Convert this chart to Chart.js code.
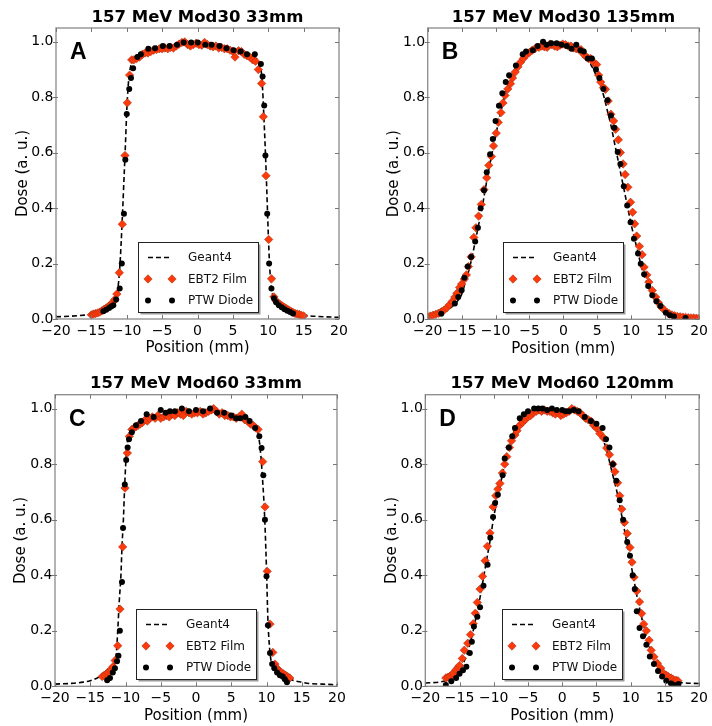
<!DOCTYPE html>
<html>
<head>
<meta charset="utf-8">
<script src="https://cdn.jsdelivr.net/npm/chart.js@4.4.1/dist/chart.umd.min.js"></script>
<style>
html, body { margin: 0; padding: 0; background: #fff; }
#wrap { position: relative; width: 712px; height: 726px; overflow: hidden; }
.panel { position: absolute; width: 356px; height: 363px; }
</style>
</head>
<body>
<div id="wrap">
  <div class="panel" style="left:0;top:0"><canvas id="cA" width="356" height="363"></canvas></div>
  <div class="panel" style="left:356px;top:0"><canvas id="cB" width="356" height="363"></canvas></div>
  <div class="panel" style="left:0;top:363px"><canvas id="cC" width="356" height="363"></canvas></div>
  <div class="panel" style="left:356px;top:363px"><canvas id="cD" width="356" height="363"></canvas></div>
</div>
<script>
// axis ticks and labels
const xTicks = [-20, -15, -10, -5, 0, 5, 10, 15, 20];
const yTicks = [0, 0.2, 0.4, 0.6, 0.8, 1.0];
const titles = ['157 MeV Mod30 33mm', '157 MeV Mod30 135mm', '157 MeV Mod60 33mm', '157 MeV Mod60 120mm'];
const letters = ['A', 'B', 'C', 'D'];
const seriesNames = ['Geant4', 'EBT2 Film', 'PTW Diode'];

// panel A : Mod30 33mm
const geantA = [[-20,.008],[-18,.01],[-16,.014],[-15,.017],[-14,.022],[-13,.03],[-12.5,.037],[-12,.046],[-11.6,.062],[-11.3,.1],[-11.0,.18],[-10.8,.27],[-10.6,.38],[-10.4,.5],[-10.2,.62],[-10.0,.75],[-9.8,.84],[-9.6,.89],[-9.3,.925],[-9.0,.94],[-8,.952],[-7,.962],[-6,.97],[-5,.976],[-4,.981],[-3,.986],[-2,.99],[-1,.992],[0,.992],[1,.991],[2,.989],[3,.985],[4,.98],[5,.974],[6,.967],[7,.958],[8,.945],[8.5,.935],[8.8,.92],[9.0,.895],[9.2,.83],[9.4,.72],[9.6,.6],[9.8,.46],[10.0,.31],[10.2,.19],[10.4,.12],[10.7,.08],[11.0,.062],[11.5,.05],[12,.04],[13,.028],[14,.02],[15,.014],[16,.011],[18,.008],[20,.006]];
const filmA = [[-15.0,.015],[-14.7,.018],[-14.4,.02],[-14.1,.022],[-13.8,.025],[-13.5,.03],[-13.2,.035],[-12.9,.04],[-12.6,.045],[-12.3,.05],[-12.0,.06],[-11.7,.07],[-11.4,.09],[-11.05,.167],[-10.63,.342],[-10.25,.59],[-9.92,.78],[-9.6,.88],[-9.3,.935],[-9.0,.935],[-8.6,.94],[-8.2,.945],[-7.8,.955],[-7.4,.96],[-7.0,.96],[-6.6,.965],[-6.2,.97],[-5.8,.972],[-5.4,.975],[-5.0,.975],[-4.6,.978],[-4.2,.975],[-3.8,.98],[-3.4,.978],[-3.0,.985],[-2.6,.992],[-2.2,.998],[-1.8,1.0],[-1.4,.99],[-1.0,.985],[-0.6,.99],[-0.2,.995],[0.2,.99],[0.6,.988],[1.0,.998],[1.4,.99],[1.8,.985],[2.2,.982],[2.6,.985],[3.0,.978],[3.4,.98],[3.8,.975],[4.2,.975],[4.6,.97],[5.0,.965],[5.3,.945],[5.8,.968],[6.2,.965],[6.6,.955],[7.0,.95],[7.4,.945],[7.8,.935],[8.2,.93],[8.6,.9],[9.06,.85],[9.3,.73],[9.68,.517],[10.06,.287],[10.46,.145],[10.8,.08],[11.1,.065],[11.4,.058],[11.7,.052],[12.0,.047],[12.3,.042],[12.6,.037],[12.9,.033],[13.2,.028],[13.5,.024],[13.8,.02],[14.1,.018],[14.4,.016],[14.7,.013],[15.0,.011]];
const diodeA = [[-13.3,.028],[-12.9,.033],[-12.5,.04],[-12.2,.045],[-11.9,.05],[-11.5,.07],[-11.0,.11],[-10.7,.2],[-10.4,.38],[-10.2,.575],[-10.0,.74],[-9.65,.83],[-9.4,.87],[-9.1,.905],[-8.5,.945],[-8.0,.955],[-6.95,.975],[-6.0,.977],[-4.9,.985],[-3.95,.985],[-2.9,.99],[-1.95,.998],[-0.9,.998],[0.04,.998],[1.1,.99],[2.0,.99],[3.1,.985],[4.1,.977],[5.1,.97],[6.1,.965],[7.0,.955],[8.1,.955],[8.96,.92],[9.2,.875],[9.43,.77],[9.6,.59],[9.85,.38],[10.12,.2],[10.45,.11],[10.8,.075],[11.1,.06],[11.5,.05],[11.9,.042],[12.3,.035],[12.7,.03],[13.1,.025],[13.5,.02]];

// panel B : Mod30 135mm
const geantB = [[-20,.01],[-19,.015],[-18,.022],[-17,.035],[-16,.055],[-15,.09],[-14.5,.13],[-14,.17],[-13.5,.22],[-13,.28],[-12.5,.34],[-12,.4],[-11.5,.47],[-11,.54],[-10.5,.6],[-10,.66],[-9.5,.72],[-9,.77],[-8.5,.82],[-8,.855],[-7,.91],[-6,.945],[-5,.97],[-4,.985],[-3,.995],[-2,.995],[-1,.99],[0,.985],[1,.98],[2,.97],[3,.95],[4,.92],[5,.87],[5.5,.84],[6,.8],[6.5,.75],[7,.7],[7.5,.64],[8,.58],[8.5,.52],[9,.46],[9.5,.4],[10,.34],[10.5,.29],[11,.24],[11.5,.19],[12,.15],[12.5,.12],[13,.09],[14,.055],[15,.032],[16,.02],[17,.012],[18,.008],[20,.004]];
const filmB = [[-20.0,.010],[-19.6,.012],[-19.2,.015],[-18.8,.018],[-18.4,.022],[-18.0,.027],[-17.6,.033],[-17.2,.041],[-16.8,.052],[-16.4,.064],[-16.0,.080],[-15.7,.094],[-15.3,.115],[-15.0,.127],[-14.6,.145],[-14.3,.160],[-14.0,.190],[-13.6,.225],[-13.2,.295],[-12.9,.330],[-12.5,.372],[-12.1,.414],[-11.7,.467],[-11.3,.510],[-11.0,.555],[-10.6,.587],[-10.3,.625],[-9.9,.671],[-9.6,.710],[-9.2,.745],[-8.9,.780],[-8.6,.807],[-8.2,.830],[-7.8,.849],[-7.5,.870],[-7.1,.891],[-6.7,.910],[-6.3,.927],[-5.9,.940],[-5.4,.954],[-5.0,.962],[-4.6,.970],[-4.2,.975],[-3.6,.980],[-3.2,.985],[-2.8,.982],[-2.4,.980],[-2.0,.992],[-1.7,.990],[-1.3,.985],[-0.9,.982],[-0.5,.988],[-0.1,.992],[0.3,.990],[0.7,.985],[1.1,.985],[1.5,.978],[1.9,.975],[2.3,.972],[2.6,.972],[3.0,.955],[3.4,.945],[3.7,.940],[4.0,.940],[4.5,.925],[4.9,.918],[5.2,.880],[5.5,.855],[5.9,.835],[6.2,.829],[6.6,.787],[7.0,.739],[7.4,.715],[7.7,.685],[8.1,.647],[8.4,.601],[8.8,.560],[9.1,.522],[9.5,.476],[9.9,.422],[10.2,.386],[10.5,.344],[10.8,.300],[11.2,.263],[11.6,.233],[11.9,.188],[12.3,.160],[12.6,.134],[13.1,.104],[13.6,.080],[14.0,.060],[14.4,.045],[14.8,.035],[15.2,.026],[15.6,.020],[16.0,.016],[16.4,.013],[16.8,.010],[17.2,.009],[17.6,.008],[18.0,.007],[18.4,.006],[18.8,.005],[19.2,.005],[19.6,.004],[20.0,.004]];
const diodeB = [[-18.0,.020],[-16.0,.057],[-15.5,.080],[-15.0,.105],[-14.6,.150],[-14.1,.190],[-13.6,.225],[-13.0,.280],[-12.6,.330],[-12.2,.400],[-11.7,.465],[-11.3,.530],[-10.8,.595],[-10.4,.650],[-10.0,.715],[-9.5,.770],[-9.0,.815],[-8.5,.855],[-8.0,.880],[-7.0,.915],[-6.0,.955],[-5.5,.965],[-4.5,.970],[-3.8,.985],[-3.0,1.000],[-2.5,.990],[-1.8,.995],[-1.0,.995],[-0.3,.990],[0.5,.985],[1.2,.975],[1.9,.990],[2.5,.970],[3.0,.965],[3.6,.940],[4.2,.940],[4.8,.900],[5.3,.870],[5.9,.830],[6.5,.790],[7.0,.735],[7.5,.690],[8.0,.603],[8.4,.560],[8.9,.480],[9.4,.410],[9.9,.350],[10.4,.290],[11.0,.237],[11.4,.200],[11.9,.162],[12.5,.120],[13.1,.087],[13.7,.065],[14.3,.048],[15.1,.024],[15.7,.015],[16.3,.010],[18.0,.005]];

// panel C : Mod60 33mm
const geantC = [[-20,.008],[-18,.01],[-16,.015],[-15,.02],[-14,.03],[-13,.04],[-12.5,.05],[-12,.06],[-11.6,.08],[-11.3,.12],[-11.1,.2],[-10.9,.3],[-10.65,.4],[-10.5,.5],[-10.3,.6],[-10.15,.7],[-9.97,.8],[-9.8,.86],[-9.6,.9],[-9.3,.92],[-9.0,.93],[-8,.95],[-7,.96],[-6,.97],[-5,.975],[-4,.98],[-3,.985],[-2,.988],[-1,.99],[0,.99],[1,.99],[2,.99],[3,.99],[4,.985],[5,.98],[6,.97],[7,.96],[8,.945],[8.6,.93],[9.0,.88],[9.2,.83],[9.4,.76],[9.6,.68],[9.8,.57],[10.0,.42],[10.2,.24],[10.4,.15],[10.6,.1],[10.9,.07],[11.3,.055],[12,.04],[13,.03],[14,.02],[15,.015],[16,.01],[18,.008],[20,.005]];
const filmC = [[-13.3,.035],[-13.0,.040],[-12.7,.045],[-12.5,.050],[-12.2,.055],[-12.0,.062],[-11.8,.070],[-11.47,.093],[-11.1,.146],[-10.78,.278],[-10.4,.502],[-10.07,.714],[-9.74,.84],[-9.45,.9],[-9.1,.925],[-8.8,.93],[-8.5,.935],[-8.2,.94],[-7.9,.945],[-7.6,.95],[-7.2,.96],[-6.9,.955],[-6.6,.965],[-6.2,.97],[-5.8,.965],[-5.4,.975],[-5.0,.965],[-4.6,.97],[-4.2,.975],[-3.8,.97],[-3.4,.98],[-3.0,.975],[-2.6,.985],[-2.2,.98],[-1.8,.975],[-1.4,.99],[-1.0,.985],[-0.6,.98],[-0.2,.985],[0.2,.985],[0.6,.99],[1.0,.98],[1.4,.985],[1.8,.99],[2.2,.995],[2.5,1.0],[2.9,.99],[3.3,.98],[3.7,.985],[4.1,.975],[4.5,.975],[4.9,.97],[5.3,.97],[5.7,.965],[6.1,.97],[6.5,.98],[6.9,.96],[7.3,.955],[7.7,.945],[8.1,.94],[8.5,.93],[8.8,.925],[9.46,.809],[9.79,.646],[10.1,.414],[10.5,.224],[10.9,.122],[11.2,.08],[11.5,.065],[11.8,.055],[12.1,.05],[12.4,.045],[12.7,.04],[13.0,.035],[13.3,.03]];
const diodeC = [[-12.6,.022],[-12.2,.03],[-11.8,.05],[-11.5,.065],[-11.2,.09],[-11.0,.11],[-10.8,.2],[-10.5,.376],[-10.35,.57],[-10.1,.727],[-9.9,.815],[-9.7,.86],[-9.5,.89],[-9.1,.915],[-8.5,.94],[-7.8,.955],[-7.0,.98],[-6.0,.97],[-5.0,.995],[-4.3,.985],[-3.7,.99],[-3.0,.99],[-2.0,1.0],[-1.0,.99],[0.0,.995],[1.0,.99],[2.0,1.0],[3.0,.985],[4.0,.985],[5.0,.975],[5.7,.965],[6.3,.965],[7.0,.97],[7.6,.955],[8.4,.93],[8.98,.9],[9.3,.858],[9.55,.76],[9.78,.6],[10.0,.396],[10.2,.22],[10.5,.12],[10.8,.08],[11.1,.065],[11.5,.05],[11.9,.04],[12.3,.035],[12.6,.025],[12.9,.015]];

// panel D : Mod60 120mm
const geantD = [[-20,.012],[-18,.015],[-17,.02],[-16,.03],[-15,.055],[-14.5,.08],[-14,.11],[-13.5,.15],[-13,.2],[-12.5,.26],[-12,.32],[-11.5,.39],[-11,.46],[-10.5,.53],[-10,.61],[-9.5,.67],[-9,.73],[-8.5,.79],[-8,.84],[-7.5,.88],[-7,.92],[-6,.96],[-5,.985],[-4,.995],[-2,.998],[0,.995],[1,.993],[2,.99],[3,.975],[4,.955],[5,.925],[6,.885],[6.5,.85],[7,.8],[7.5,.75],[8,.7],[8.5,.64],[9,.575],[9.5,.51],[10,.445],[10.5,.38],[11,.315],[11.5,.26],[12,.205],[12.5,.16],[13,.125],[13.5,.095],[14,.07],[15,.04],[16,.025],[17,.015],[18,.012],[20,.01]];
const filmD = [[-17.0,.030],[-16.7,.033],[-16.4,.036],[-16.1,.042],[-15.9,.047],[-15.5,.060],[-15.2,.068],[-15.0,.075],[-14.6,.100],[-14.3,.130],[-13.8,.155],[-13.4,.186],[-13.0,.225],[-12.7,.263],[-12.4,.302],[-12.0,.350],[-11.64,.396],[-11.26,.452],[-10.93,.504],[-10.55,.552],[-10.1,.646],[-9.7,.686],[-9.4,.71],[-9.1,.73],[-8.74,.768],[-8.4,.80],[-8.1,.827],[-7.7,.86],[-7.4,.884],[-6.9,.905],[-6.6,.92],[-6.2,.94],[-5.8,.95],[-5.4,.96],[-5.0,.97],[-4.6,.975],[-4.2,.985],[-3.8,.99],[-3.4,.995],[-3.0,.99],[-2.6,.995],[-2.2,.99],[-1.8,.99],[-1.4,.985],[-1.0,.98],[-0.6,.985],[-0.2,.975],[0.2,.98],[0.6,.985],[1.0,.99],[1.4,1.0],[1.8,.995],[2.2,.99],[2.6,.985],[3.0,.975],[3.4,.965],[3.8,.96],[4.2,.955],[4.6,.94],[5.0,.93],[5.5,.91],[6.06,.894],[6.5,.858],[6.9,.834],[7.4,.80],[7.7,.773],[8.1,.733],[8.4,.686],[8.7,.638],[9.1,.59],[9.5,.55],[9.9,.50],[10.2,.447],[10.5,.393],[10.9,.343],[11.3,.304],[11.6,.262],[11.9,.224],[12.3,.20],[12.7,.166],[13.0,.13],[13.4,.106],[13.9,.083],[14.4,.065],[14.8,.047],[15.2,.04],[15.5,.035],[15.9,.03],[16.2,.025],[16.6,.022],[16.9,.02]];
const diodeD = [[-17.0,.005],[-16.2,.018],[-15.5,.03],[-15.0,.045],[-14.5,.058],[-14.0,.07],[-13.5,.12],[-13.2,.16],[-12.9,.215],[-12.4,.25],[-12.0,.285],[-11.5,.362],[-10.9,.438],[-10.5,.535],[-10.1,.61],[-9.8,.66],[-9.4,.69],[-8.7,.76],[-8.4,.82],[-7.8,.86],[-7.3,.9],[-6.9,.93],[-6.2,.965],[-5.6,.98],[-5.0,.99],[-4.1,1.0],[-3.5,1.0],[-2.9,1.0],[-2.2,.995],[-1.5,1.0],[-0.8,.995],[0.0,.995],[0.5,.99],[1.0,.99],[1.7,.995],[2.4,.99],[3.3,.97],[4.2,.955],[5.0,.945],[5.9,.93],[6.4,.89],[6.9,.86],[7.4,.8],[7.9,.74],[8.4,.67],[8.9,.6],[9.5,.52],[9.9,.47],[10.3,.4],[10.6,.35],[10.9,.27],[11.3,.21],[11.8,.18],[12.3,.15],[12.8,.107],[13.4,.08],[14.0,.055],[14.6,.035],[15.2,.02],[15.9,.01],[16.3,.005],[17.0,.008]];

const panelData = [
  [geantA, filmA, diodeA],
  [geantB, filmB, diodeB],
  [geantC, filmC, diodeC],
  [geantD, filmD, diodeD]
];

// geometry of each panel (canvas-local pixels)
const frames = [
  { id: 'cA', left: 56,   right: 339,   top: 28,   bottom: 319,   titlePad: 7.6,  yTitlePad: 13,   xTitlePad: 6.7 },
  { id: 'cB', left: 71.7, right: 352.7, top: 28,   bottom: 319.3, titlePad: 7.9,  yTitlePad: 27.7, xTitlePad: 6.2 },
  { id: 'cC', left: 55,   right: 337,   top: 31.7, bottom: 323.3, titlePad: 11.3, yTitlePad: 11,   xTitlePad: 1.7 },
  { id: 'cD', left: 69.3, right: 351.7, top: 31.7, bottom: 323.3, titlePad: 11.3, yTitlePad: 26,   xTitlePad: 2 }
];

const FONT = '"DejaVu Sans", "Liberation Sans", sans-serif';
const toXY = arr => arr.map(p => ({ x: p[0], y: p[1] }));

const mplDecor = {
  id: 'mplDecor',
  afterDraw(chart, args, opts) {
    const { ctx, chartArea: a, scales: { x, y } } = chart;
    ctx.save();
    // frame
    ctx.strokeStyle = '#8a8a8a';
    ctx.lineWidth = 1.3;
    ctx.strokeRect(a.left, a.top, a.right - a.left, a.bottom - a.top);
    // ticks
    ctx.lineWidth = 1;
    ctx.strokeStyle = '#777';
    ctx.beginPath();
    x.ticks.forEach(t => {
      const p = Math.round(x.getPixelForValue(t.value)) + 0.5;
      ctx.moveTo(p, a.bottom); ctx.lineTo(p, a.bottom - 4);
      ctx.moveTo(p, a.top); ctx.lineTo(p, a.top + 4);
    });
    y.ticks.forEach(t => {
      const p = Math.round(y.getPixelForValue(t.value)) + 0.5;
      ctx.moveTo(a.left - 3, p); ctx.lineTo(a.left + 2, p);
      ctx.moveTo(a.right, p); ctx.lineTo(a.right - 4, p);
    });
    ctx.stroke();

    // panel letter
    ctx.fillStyle = '#000';
    ctx.font = 'bold 23px "Liberation Sans", Arial, sans-serif';
    ctx.textAlign = 'left';
    ctx.textBaseline = 'alphabetic';
    ctx.fillText(opts.letter, a.left + 14, a.top + 31);

    // legend (lower center, two markers per entry)
    const w = 120, h = 70;
    const bx = Math.round((a.left + a.right) / 2 - w / 2), by = Math.round(a.bottom - 7 - h);
    ctx.fillStyle = '#9a9a9a';
    ctx.fillRect(bx + 2.5, by + 2.5, w, h);
    ctx.fillStyle = '#fff';
    ctx.fillRect(bx, by, w, h);
    ctx.strokeStyle = '#222';
    ctx.lineWidth = 1;
    ctx.strokeRect(bx + 0.5, by + 0.5, w, h);
    ctx.font = '12px ' + FONT;
    ctx.textBaseline = 'middle';
    chart.data.datasets.forEach((ds, i) => {
      const ry = by + 15.5 + i * 21.5;
      const x0 = bx + 10, x1 = bx + 34;
      if (ds.showLine) {
        ctx.save();
        ctx.strokeStyle = ds.borderColor;
        ctx.lineWidth = ds.borderWidth;
        ctx.setLineDash(ds.borderDash);
        ctx.beginPath();
        ctx.moveTo(x0, ry); ctx.lineTo(x1, ry);
        ctx.stroke();
        ctx.restore();
      } else {
        [x0, x1].forEach(px => {
          ctx.fillStyle = ds.pointBackgroundColor;
          ctx.strokeStyle = ds.pointBorderColor;
          ctx.lineWidth = ds.pointBorderWidth;
          Chart.helpers.drawPoint(ctx, {
            pointStyle: ds.pointStyle, radius: ds.pointRadius,
            borderWidth: ds.pointBorderWidth, rotation: 0
          }, px, ry);
        });
      }
      ctx.fillStyle = '#111';
      ctx.fillText(ds.label, bx + 50, ry + 0.5);
    });
    ctx.restore();
  }
};

frames.forEach((f, i) => {
  const [g4, film, diode] = panelData[i];
  const W = 356, H = 363;
  new Chart(document.getElementById(f.id), {
    type: 'scatter',
    data: {
      datasets: [
        {
          label: seriesNames[0], data: toXY(g4), showLine: true,
          borderColor: '#000', borderWidth: 1.6, borderDash: [5, 3],
          pointRadius: 0, cubicInterpolationMode: 'monotone', order: 3
        },
        {
          label: seriesNames[1], data: toXY(film), showLine: false,
          pointStyle: 'rectRot', pointRadius: 4.2,
          pointBackgroundColor: '#ff3a0a', pointBorderColor: '#a8321a', pointBorderWidth: 0.6,
          backgroundColor: '#ff3a0a', borderColor: '#a8321a', order: 2
        },
        {
          label: seriesNames[2], data: toXY(diode), showLine: false,
          pointStyle: 'circle', pointRadius: 3,
          pointBackgroundColor: '#000', pointBorderColor: '#000', pointBorderWidth: 0,
          backgroundColor: '#000', borderColor: '#000', order: 1
        }
      ]
    },
    options: {
      responsive: false,
      animation: false,
      events: [],
      layout: { autoPadding: false, padding: { left: 0, right: W - f.right, top: 0, bottom: 0 } },
      plugins: {
        legend: { display: false },
        tooltip: { enabled: false },
        title: {
          display: true, text: titles[i], fullSize: false, color: '#000',
          font: { family: FONT, size: 16.5, weight: 'bold', lineHeight: 1.2 },
          padding: { top: f.titlePad, bottom: f.top - f.titlePad - 19.8 }
        },
        mplDecor: { letter: letters[i] }
      },
      scales: {
        x: {
          type: 'linear', min: -20, max: 20,
          afterFit: s => { s.height = H - f.bottom; },
          afterBuildTicks: s => { s.ticks = xTicks.map(v => ({ value: v })); },
          grid: { display: false, drawTicks: false },
          border: { display: false },
          ticks: {
            padding: 4, maxRotation: 0, autoSkip: false, color: '#000',
            font: { family: FONT, size: 14 },
            callback: v => String(v).replace('-', '\u2212')
          },
          title: {
            display: true, text: 'Position (mm)', color: '#000',
            font: { family: FONT, size: 15, lineHeight: 1.2 },
            padding: { top: 0, bottom: f.xTitlePad - 1 }
          }
        },
        y: {
          type: 'linear', min: 0, max: 1.05,
          afterFit: s => { s.width = f.left; },
          afterBuildTicks: s => { s.ticks = yTicks.map(v => ({ value: v })); },
          grid: { display: false, drawTicks: false },
          border: { display: false },
          ticks: {
            padding: 2.5, autoSkip: false, color: '#000',
            font: { family: FONT, size: 14 },
            callback: v => Number(v).toFixed(1)
          },
          title: {
            display: true, text: 'Dose (a. u.)', color: '#000',
            font: { family: FONT, size: 15, lineHeight: 1.2 },
            padding: { top: f.yTitlePad + 1, bottom: 0 }
          }
        }
      }
    },
    plugins: [mplDecor]
  });
});
</script>
</body>
</html>
